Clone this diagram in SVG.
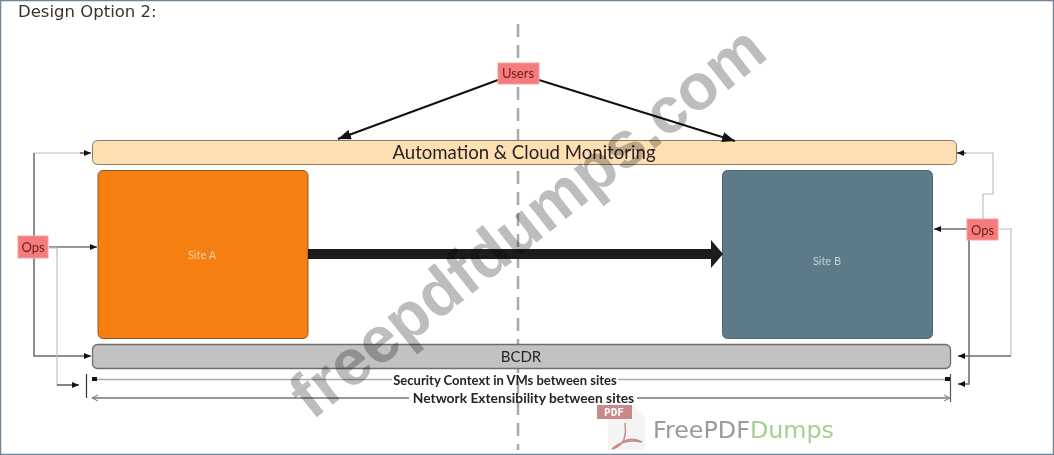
<svg xmlns="http://www.w3.org/2000/svg" width="1054" height="455" viewBox="0 0 1054 455">
<style>
text{font-family:"Liberation Sans",Arial,sans-serif}
.f{font-family:Lato,"Liberation Sans",sans-serif;fill:#2a2220}
.tag{fill:#f47c7c;stroke:#f4a0a0;stroke-width:1}
.tagt{font-family:Lato,"Liberation Sans",sans-serif;font-size:13px;fill:#6b1c22;text-anchor:middle}
.d{fill:none;stroke:#333;stroke-width:1.2}
.dg{fill:none;stroke:#bdbdbd;stroke-width:1.2}
.dm{fill:none;stroke:#6a6a6a;stroke-width:1.5}
.k{fill:none;stroke:#111;stroke-width:2}
</style>
<defs>
<marker id="a" markerWidth="8" markerHeight="6" refX="7" refY="3" orient="auto" markerUnits="userSpaceOnUse"><path d="M0,0L7,3L0,6z" fill="#111"/></marker>
<marker id="b" markerWidth="14" markerHeight="10" refX="13" refY="5" orient="auto" markerUnits="userSpaceOnUse"><path d="M0,0L13,5L0,10z" fill="#111"/></marker>
</defs>
<rect x="0.5" y="0.5" width="1053" height="454" fill="#fff" stroke="#6f8597" stroke-width="1.5"/>
<text x="18" y="17" fill="#333" style="font-family:'DejaVu Sans',sans-serif;font-size:16.5px">Design Option 2:</text>
<line x1="518" y1="24" x2="518" y2="450" stroke="#a9a9a9" stroke-width="2.5" stroke-dasharray="13 8"/>

<g id="automation"><rect x="92.500" y="140.500" width="864" height="24" rx="5" fill="#fddfb3" stroke="#8c7a60" stroke-width="1"/><text class="f" x="524" y="159" font-size="18.600" text-anchor="middle">Automation &amp; Cloud Monitoring</text></g>
<g id="site-a"><rect x="98" y="170.500" width="210" height="168" rx="5" fill="#f67f12" stroke="#8a5a2c" stroke-width="1"/><text x="202" y="259" font-size="11" fill="#f8cfa0" text-anchor="middle" style="font-family:Lato,sans-serif">Site A</text></g>
<g id="site-b"><rect x="722.500" y="170.500" width="210" height="168" rx="5" fill="#5d7a89" stroke="#4d6572" stroke-width="1"/><text x="827" y="265" font-size="11" fill="#c4d2da" text-anchor="middle" style="font-family:Lato,sans-serif">Site B</text></g>
<g id="bcdr"><rect x="92.500" y="344.500" width="858" height="24" rx="5" fill="#c2c2c2" stroke="#6e6e6e" stroke-width="1.300"/><text class="f" x="521" y="362" font-size="15" text-anchor="middle">BCDR</text></g>

<g id="connectors">
<path class="k" d="M498,80L338,139" marker-end="url(#b)"/>
<path class="k" d="M539,80L735,141" marker-end="url(#b)"/>
<path class="dg" d="M34,153H80"/><path class="d" d="M80,153H91" marker-end="url(#a)"/>
<path class="dm" d="M34,153V236M34,258V356H91" marker-end="url(#a)"/>
<path class="d" d="M49,247H97" marker-end="url(#a)"/>
<path class="dg" d="M49,248H57V385"/><path class="d" d="M57,385H79" marker-end="url(#a)"/>
<path class="dg" stroke-width="2" d="M966,153H993V194H983V219"/><path class="d" d="M966,153H957" marker-end="url(#a)"/>
<path class="dm" d="M968,229H934" marker-end="url(#a)"/>
<path class="dg" d="M998,229H1011V356"/><path class="dm" d="M1011,356H958" marker-end="url(#a)"/>
<path class="dm" d="M969,240V384H958" marker-end="url(#a)"/>
<line x1="86.500" y1="374" x2="86.500" y2="398" stroke="#333" stroke-width="1.200"/>
<line x1="950.500" y1="374" x2="950.500" y2="402" stroke="#555" stroke-width="1.200"/>
<rect x="92" y="377" width="5" height="4" fill="#111"/><rect x="945" y="377" width="5" height="4" fill="#111"/>
<path d="M97,379.500H392M618,379.500H945" fill="none" stroke="#aaa" stroke-width="1.300"/>
<path class="d" d="M92,398H409M637,398H948" stroke-width="1.500"/>
<path d="M98,395L92,398L98,401M944,395L950,398L944,401" fill="none" stroke="#777" stroke-width="1"/>
<line x1="308" y1="254" x2="712" y2="254" stroke="#1c1c1c" stroke-width="10"/>
<path d="M711,240L723,254L711,268z" fill="#1c1c1c"/>
</g>

<text class="f" x="505" y="385" font-size="13" text-anchor="middle" font-weight="700">Security Context in VMs between sites</text>
<text class="f" x="523.500" y="403" font-size="13.800" text-anchor="middle" font-weight="700">Network Extensibility between sites</text>

<g id="users"><rect class="tag" x="498" y="63" width="41" height="21"/><text class="tagt" x="518" y="78">Users</text></g>
<g id="ops-left"><rect class="tag" x="18" y="236" width="30" height="22"/><text class="tagt" x="33" y="252">Ops</text></g>
<g id="ops-right"><rect class="tag" x="967" y="219" width="31" height="21"/><text class="tagt" x="982.500" y="235">Ops</text></g>

<text transform="translate(312,421) rotate(-38.5)" font-size="65" font-weight="700" fill="#bdbdbd" style="font-family:'Liberation Sans',sans-serif;mix-blend-mode:multiply">freepdfdumps.com</text>

<path d="M608,405H633L645,417V450H608z" fill="#f4f4f4"/>
<rect x="597" y="405" width="35" height="14" fill="#c9888c"/>
<text x="614" y="416" font-size="11" fill="#fff" text-anchor="middle" font-weight="700" style="font-family:'DejaVu Sans Mono',monospace">PDF</text>
<path d="M625,423C628,445 617,447 612,449C620,445 628,434 642,442C632,440 622,440 613,448" fill="none" stroke="#c88a88" stroke-width="1.500"/>
<text x="653" y="438" fill="#9a9a9a" style="font-family:'DejaVu Sans',sans-serif;font-size:23.800px">FreePDF<tspan fill="#a5cf94">Dumps</tspan></text>
</svg>
